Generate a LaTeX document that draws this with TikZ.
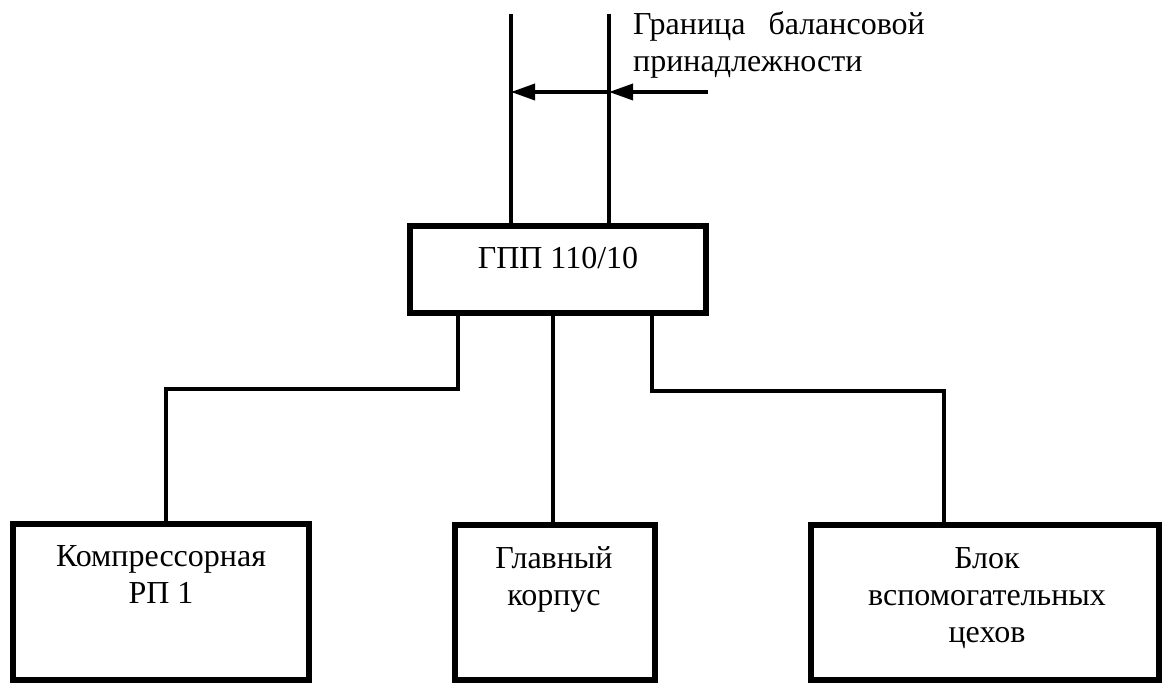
\documentclass[tikz,border=0pt]{standalone}
\usepackage{fontspec}
\setmainfont{Liberation Serif}
\usetikzlibrary{arrows.meta}
\begin{document}
\begin{tikzpicture}[x=1pt,y=-1pt,
  box/.style={draw, line width=5.5pt, inner sep=0pt},
  wire/.style={line width=3.5pt},
  lbl/.style={font=\fontsize{32}{37}\selectfont, inner sep=0pt, align=center},
  arr/.style={wire, -{Triangle[length=24pt,width=16pt]}}]
\useasboundingbox (0,0) rectangle (1164,684);

% boxes
\node[box, minimum width=296pt, minimum height=87pt] (gpp) at (558,269.5) {};
\node[lbl, anchor=base] (gpptxt) at (558,269) {ГПП 110/10};

\node[box, minimum width=296pt, minimum height=156pt] (komp) at (161,602) {};
\node[lbl, anchor=base] (komptxt) at (161,603) {Компрессорная\\РП 1};

\node[box, minimum width=200pt, minimum height=155pt] (glav) at (555,602.5) {};
\node[lbl, anchor=base] (glavtxt) at (554,605) {Главный\\корпус};

\node[box, minimum width=348pt, minimum height=155pt] (blok) at (985,602.5) {};
\node[lbl, anchor=base] (bloktxt) at (987,642) {Блок\\вспомогательных\\цехов};

% boundary label
\node[lbl, anchor=base west] (g1) at (633,35) {Граница};
\node[lbl, anchor=base east] (g2) at (925,35) {балансовой};
\node[lbl, anchor=base west] (g3) at (633,72) {принадлежности};

% incoming lines
\coordinate (t1) at (511,14);
\coordinate (t2) at (609,14);
\draw[wire] (t1) -- (t1 |- gpp.north);
\draw[wire] (t2) -- (t2 |- gpp.north);

% boundary arrows
\coordinate (a0) at (708,92);
\draw[arr] (a0) -- (a0 -| t2);
\draw[arr] (a0 -| t2) -- (a0 -| t1);

% outgoing lines
\coordinate (j1) at (458,389);
\coordinate (j2) at (166,389);
\draw[wire] (gpp.south -| j1) -- (j1) -- (j2) -- (j2 |- komp.north);

\coordinate (m) at (553,400);
\draw[wire] (gpp.south -| m) -- (glav.north -| m);

\coordinate (j3) at (652,391);
\coordinate (j4) at (944,391);
\draw[wire] (gpp.south -| j3) -- (j3) -- (j4) -- (j4 |- blok.north);
\end{tikzpicture}
\end{document}
